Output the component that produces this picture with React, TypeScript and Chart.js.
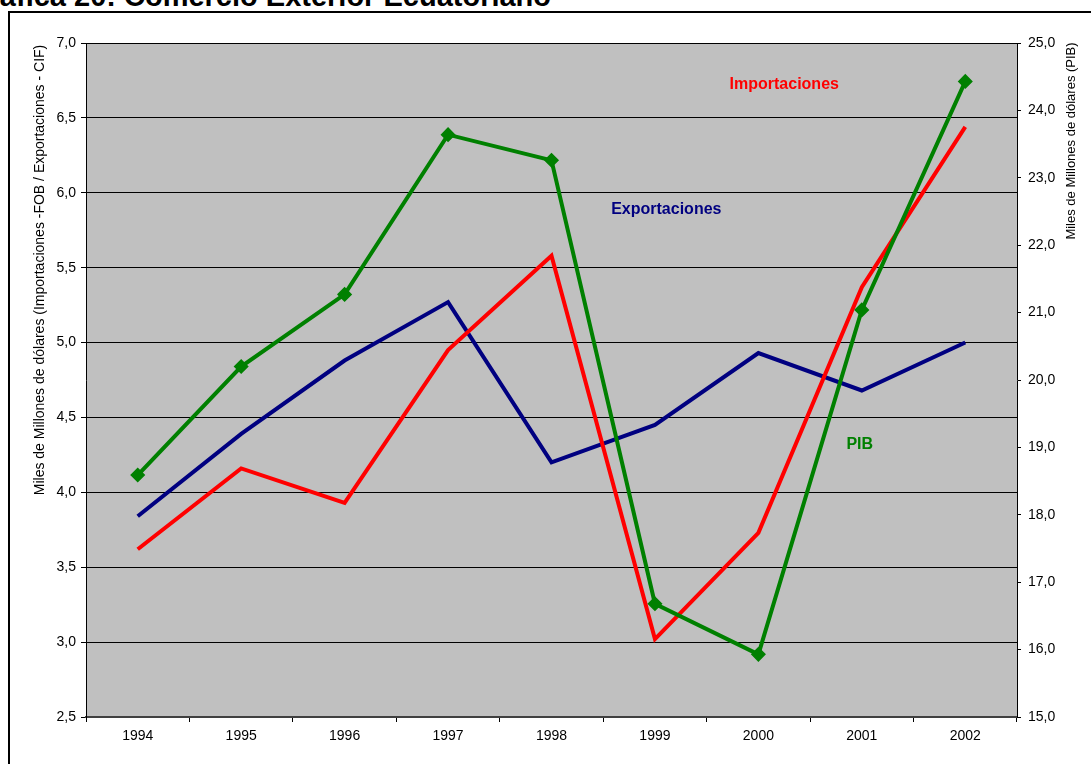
import React, { useEffect, useRef } from 'react';
import { Chart, registerables } from 'chart.js';

Chart.register(...registerables);

const years = ['1994', '1995', '1996', '1997', '1998', '1999', '2000', '2001', '2002'];
const importaciones = [3.62, 4.16, 3.93, 4.95, 5.58, 3.02, 3.73, 5.37, 6.44];
const exportaciones = [3.84, 4.39, 4.88, 5.27, 4.2, 4.45, 4.93, 4.68, 5.0];
const pib = [18.59, 20.2, 21.27, 23.64, 23.26, 16.68, 15.93, 21.04, 24.43];

const titleText = 'Gráfica 20: Comercio Exterior Ecuatoriano';
const leftAxisTitle = 'Miles de Millones de dólares (Importaciones -FOB / Exportaciones - CIF)';
const rightAxisTitle = 'Miles de Millones de dólares (PIB)';

// series name labels: text, colour, category index, left-axis value
const seriesLabels = [
  { text: 'Importaciones', color: '#FF0000', at: 6.25, value: 6.72 },
  { text: 'Exportaciones', color: '#000080', at: 5.11, value: 5.89 },
  { text: 'PIB', color: '#008000', at: 6.98, value: 4.32 },
];

const FONT = "'Liberation Sans', Arial, sans-serif";

const fmt = (v: number) => Number(v).toFixed(1).replace('.', ',');

export default function App() {
  const ref = useRef<HTMLCanvasElement>(null);

  useEffect(() => {
    if (!ref.current) return;
    const bgPlugin = {
      id: 'plotBg',
      beforeDraw(chart: any) {
        const { ctx, chartArea } = chart;
        ctx.save();
        ctx.fillStyle = '#C0C0C0';
        ctx.fillRect(chartArea.left, chartArea.top, chartArea.right - chartArea.left, chartArea.bottom - chartArea.top);
        ctx.restore();
      },
      afterDraw(chart: any) {
        const { ctx } = chart;
        ctx.save();
        ctx.fillStyle = '#000';
        ctx.font = `14px ${FONT}`;
        ctx.textAlign = 'center';
        ctx.textBaseline = 'middle';
        ctx.translate(40, 270);
        ctx.rotate(-Math.PI / 2);
        ctx.fillText(leftAxisTitle, 0, 0);
        ctx.restore();
        ctx.save();
        ctx.fillStyle = '#000';
        ctx.font = `13px ${FONT}`;
        ctx.textAlign = 'center';
        ctx.textBaseline = 'middle';
        ctx.translate(1071, 141);
        ctx.rotate(-Math.PI / 2);
        ctx.fillText(rightAxisTitle, 0, 0);
        ctx.restore();
        const xs = chart.scales.x;
        const ys = chart.scales.y;
        ctx.save();
        ctx.font = `bold 16px ${FONT}`;
        ctx.textAlign = 'center';
        ctx.textBaseline = 'middle';
        for (const l of seriesLabels) {
          ctx.fillStyle = l.color;
          ctx.fillText(l.text, xs.getPixelForValue(l.at), ys.getPixelForValue(l.value));
        }
        ctx.restore();
      },
    };

    const chart = new Chart(ref.current, {
      type: 'line',
      data: {
        labels: years,
        datasets: [
          {
            label: 'PIB',
            data: pib,
            yAxisID: 'y1',
            borderColor: '#008000',
            backgroundColor: '#008000',
            borderWidth: 4,
            pointStyle: 'rectRot',
            pointRadius: 6.5,
            pointBorderWidth: 1.5,
            pointBackgroundColor: '#008000',
            pointBorderColor: '#008000',
            tension: 0,
          },
          {
            label: 'Importaciones',
            data: importaciones,
            yAxisID: 'y',
            borderColor: '#FF0000',
            backgroundColor: '#FF0000',
            borderWidth: 4,
            pointRadius: 0,
            tension: 0,
          },
          {
            label: 'Exportaciones',
            data: exportaciones,
            yAxisID: 'y',
            borderColor: '#000080',
            backgroundColor: '#000080',
            borderWidth: 4,
            pointRadius: 0,
            tension: 0,
          },
        ],
      },
      options: {
        animation: false,
        responsive: false,
        devicePixelRatio: 1,
        layout: { padding: { top: 43, left: 0, right: 0, bottom: 0 } },
        plugins: {
          legend: { display: false },
          tooltip: { enabled: false },
          title: { display: false },
        },
        scales: {
          x: {
            offset: true,
            afterFit(scale: any) {
              scale.height = 47;
            },
            grid: {
              offset: true,
              drawOnChartArea: false,
              drawTicks: true,
              tickLength: 5,
              color: '#000',
              tickColor: '#000',
            },
            border: { color: '#404040', width: 2 },
            ticks: {
              color: '#000',
              font: { family: FONT, size: 14 },
              padding: 6,
              maxRotation: 0,
              autoSkip: false,
            },
          },
          y: {
            position: 'left',
            min: 2.5,
            max: 7,
            afterFit(scale: any) {
              scale.width = 86;
            },
            grid: {
              color: '#000',
              lineWidth: 1,
              tickLength: 5,
              tickColor: '#000',
            },
            border: { color: '#000', width: 1 },
            ticks: {
              stepSize: 0.5,
              color: '#000',
              font: { family: FONT, size: 14 },
              padding: 5,
              callback: (v: any) => fmt(v),
            },
          },
          y1: {
            position: 'right',
            min: 15,
            max: 25,
            afterFit(scale: any) {
              scale.width = 74;
            },
            grid: {
              drawOnChartArea: false,
              tickLength: 4,
              color: '#000',
              tickColor: '#000',
            },
            border: { color: '#000', width: 1 },
            ticks: {
              stepSize: 1,
              color: '#000',
              font: { family: FONT, size: 14 },
              padding: 7,
              callback: (v: any) => fmt(v),
            },
          },
        },
      },
      plugins: [bgPlugin],
    } as any);
    return () => chart.destroy();
  }, []);

  return (
    <div
      style={{
        position: 'fixed',
        left: 0,
        top: 0,
        width: 1091,
        height: 764,
        background: '#fff',
        overflow: 'hidden',
      }}
    >
      <div
        style={{
          position: 'absolute',
          left: -34,
          top: -18,
          whiteSpace: 'nowrap',
          font: `bold 29px ${FONT}`,
          lineHeight: '29px',
          color: '#000',
        }}
      >
        {titleText}
      </div>
      <div
        style={{
          position: 'absolute',
          left: 8,
          top: 11,
          width: 1200,
          height: 800,
          borderLeft: '2px solid #000',
          borderTop: '2px solid #000',
        }}
      />
      <canvas
        ref={ref}
        width={1091}
        height={764}
        style={{ position: 'absolute', left: 0, top: 0, width: 1091, height: 764 }}
      />
    </div>
  );
}
